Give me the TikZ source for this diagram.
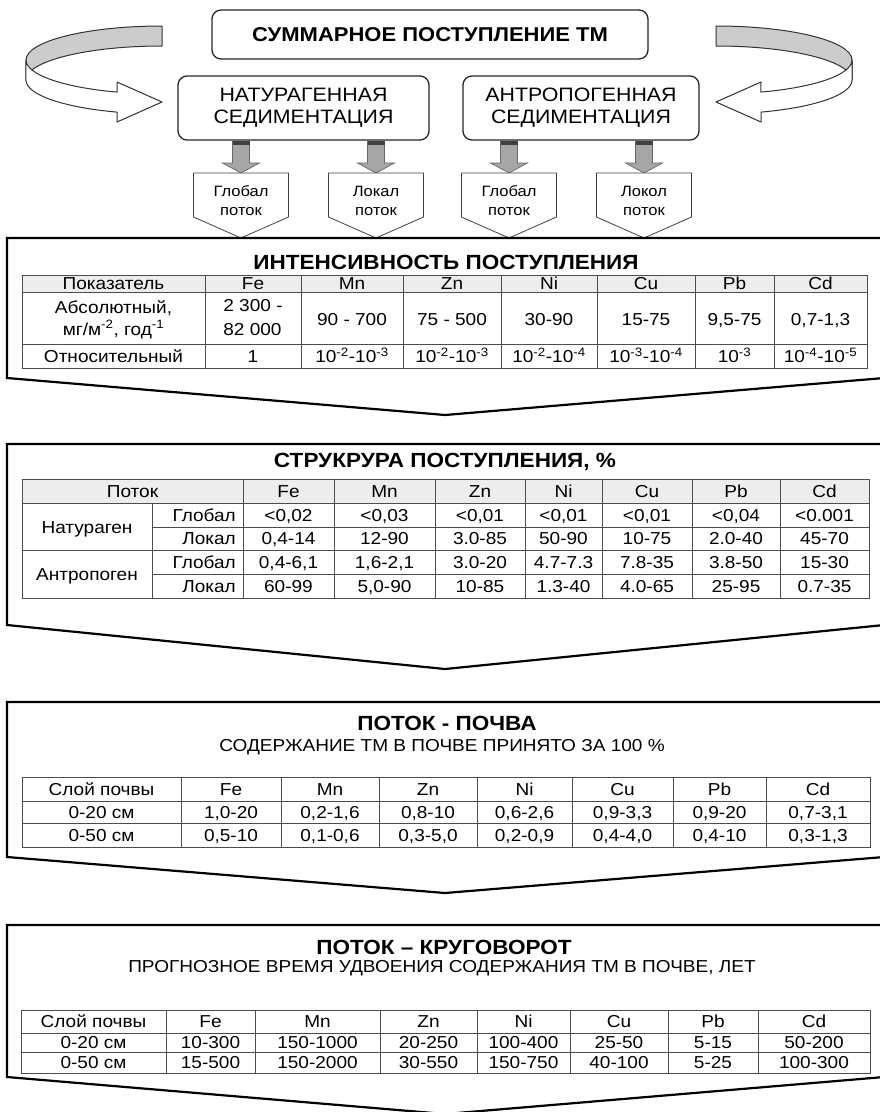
\documentclass[tikz,border=0pt]{standalone}
\usepackage{fontspec}
\setmainfont{Liberation Sans}[FakeStretch=1.1]
\begin{document}
\begin{tikzpicture}[x=1pt,y=-1pt,
  panel/.style={draw=black, line width=2.2pt, fill=white, line join=miter},
  rbox/.style={draw=black!85, line width=1.3pt, rounded corners=9pt, fill=white},
  flowbox/.style={draw=black!75, line width=0.8pt, fill=white, line join=miter},
  grayarrow/.style={draw=black!60, line width=0.7pt, fill=black!35},
  ribbon/.style={draw=black!80, line width=1pt, line join=round},
  grid/.style={draw=black!70, line width=0.8pt},
  hdr/.style={fill=black!7},
  cell/.style={font=\fontsize{17.3}{22}\selectfont, inner sep=0pt, align=center,
    text height=12.5pt, text depth=0pt},
  ttl/.style={font=\bfseries\fontsize{20.5}{24}\selectfont, inner sep=0pt},
  subttl/.style={font=\fontsize{17.3}{20}\selectfont, inner sep=0pt},
  boxtext/.style={font=\fontsize{19.4}{22}\selectfont, align=center, inner sep=0pt},
  flowtext/.style={font=\fontsize{15}{19}\selectfont, align=center, inner sep=0pt}
]
\useasboundingbox (0,0) rectangle (880,1112);
\clip (0,0) rectangle (880,1112);

% ---------- curved ribbon arrows ----------
\newcommand{\ribbonarrow}{%
  \fill[black!20, draw=black!80, line width=1pt, line join=round]
    (162,26) arc[start angle=270, end angle=180, x radius=136, y radius=34]
    -- (26,80) arc[start angle=180, end angle=270, x radius=136, y radius=34]
    -- cycle;
  \filldraw[ribbon, fill=white]
    (26,60) arc[start angle=180, end angle=109.3, x radius=136, y radius=34]
    -- (117,82) -- (162,102) -- (117,122) -- (117,112.1)
    arc[start angle=109.3, end angle=180, x radius=136, y radius=34]
    -- cycle;
}
\begin{scope}
  \ribbonarrow
\end{scope}
\begin{scope}[xshift=878pt, xscale=-1]
  \ribbonarrow
\end{scope}

% ---------- top boxes ----------
\node[rbox, minimum width=436pt, minimum height=49pt] (total) at (430,34.5) {};
\node[font=\bfseries\fontsize{20}{24}\selectfont, inner sep=0pt] (totaltxt) at (total.center) {СУММАРНОЕ ПОСТУПЛЕНИЕ ТМ};
\node[rbox, minimum width=251pt, minimum height=64pt] (nat) at (303.5,108) {};
\node[boxtext] (nattxt) at (nat.center) {НАТУРАГЕННАЯ\\СЕДИМЕНТАЦИЯ};
\node[rbox, minimum width=236pt, minimum height=64pt] (ant) at (581,108) {};
\node[boxtext] (anttxt) at (ant.center) {АНТРОПОГЕННАЯ\\СЕДИМЕНТАЦИЯ};

% ---------- flow boxes with gray arrows ----------
\foreach \cx/\la/\lb [count=\i] in {241/Глобал/поток, 376/Локал/поток, 509/Глобал/поток, 644/Локол/поток}{
  \filldraw[grayarrow] (\cx-8.5,141) -- (\cx+8.5,141) -- (\cx+8.5,163) -- (\cx+18.5,163)
     -- (\cx,173) -- (\cx-18.5,163) -- (\cx-8.5,163) -- cycle;
  \fill[black!75] (\cx-8.5,141) rectangle (\cx+8.5,145);
  \filldraw[flowbox] (\cx-47.5,173) -- (\cx+47.5,173) -- (\cx+47.5,217) -- (\cx,238)
     -- (\cx-47.5,217) -- cycle;
  \node[flowtext] (flow\i) at (\cx,200.5) {\la\\\lb};
}

% ---------- panel 1: intensity ----------
\filldraw[panel] (7,238) -- (884,238) -- (884,378) -- (445,415) -- (7,378) -- cycle;
\node[ttl] (t1) at (446,262) {ИНТЕНСИВНОСТЬ ПОСТУПЛЕНИЯ};
\fill[hdr] (22,275) rectangle (867,292);
\draw[grid] (22,275) rectangle (867,368);
\foreach \y in {292,344} \draw[grid] (22,\y) -- (867,\y);
\foreach \x in {205,301,403,501,597,695,774} \draw[grid] (\x,275) -- (\x,368);
\foreach \x/\t [count=\i] in {113.5/Показатель, 253/Fe, 352/Mn, 452/Zn, 549/Ni, 646/Cu, 734.5/Pb, 820.5/Cd}
  \node[cell] (a0c\i) at (\x,283.5) {\t};
\node[cell, text height=, text depth=] (a1c1) at (113.5,319.5) {Абсолютный,\\мг/м\textsuperscript{-2}, год\textsuperscript{-1}};
\node[cell, text height=, text depth=] (a1c2) at (253,319.5) {\begin{tabular}{@{}l@{}}2 300 -\\[2pt]82 000\end{tabular}};
\foreach \x/\t [count=\i from 3] in {352/{90 - 700}, 452/{75 - 500},
  549/{30-90}, 646/{15-75}, 734.5/{9,5-75}, 820.5/{0,7-1,3}}
  \node[cell] (a1c\i) at (\x,319) {\t};
\foreach \x/\t [count=\i] in {113.5/Относительный, 253/1,
  352/{10\textsuperscript{-2}-10\textsuperscript{-3}}, 452/{10\textsuperscript{-2}-10\textsuperscript{-3}},
  549/{10\textsuperscript{-2}-10\textsuperscript{-4}}, 646/{10\textsuperscript{-3}-10\textsuperscript{-4}},
  734.5/{10\textsuperscript{-3}}, 820.5/{10\textsuperscript{-4}-10\textsuperscript{-5}}}
  \node[cell] (a2c\i) at (\x,356.5) {\t};

% ---------- panel 2: structure ----------
\filldraw[panel] (7,444) -- (884,444) -- (884,625) -- (445,669) -- (7,625) -- cycle;
\node[ttl] (t2) at (445,462) {СТРУКРУРА ПОСТУПЛЕНИЯ, \%};
\fill[hdr] (22,479) rectangle (869,503);
\draw[grid] (22,479) rectangle (869,598);
\foreach \y in {503,550} \draw[grid] (22,\y) -- (869,\y);
\foreach \y in {527,574} \draw[grid] (152,\y) -- (869,\y);
\draw[grid] (152,503) -- (152,598);
\foreach \x in {243,334,435,525,602,692,780} \draw[grid] (\x,479) -- (\x,598);
\node[cell] (b0c1) at (132.5,491) {Поток};
\foreach \x/\t [count=\i] in {288.5/Fe, 384.5/Mn, 480/Zn, 563.5/Ni, 647/Cu, 736/Pb, 824.5/Cd}
  \node[cell] (b0d\i) at (\x,491) {\t};
\node[cell] (nat2) at (87,527) {Натураген};
\node[cell] (ant2) at (87,574) {Антропоген};
\foreach \y/\t [count=\i] in {515/Глобал, 538.5/Локал, 562/Глобал, 586/Локал}
  \node[cell, anchor=east] (blab\i) at (236,\y) {\t};
\foreach \x/\t [count=\i] in {288.5/{<0,02}, 384.5/{<0,03}, 480/{<0,01}, 563.5/{<0,01}, 647/{<0,01}, 736/{<0,04}, 824.5/{<0.001}}
  \node[cell] (b1c\i) at (\x,515) {\t};
\foreach \x/\t [count=\i] in {288.5/{0,4-14}, 384.5/{12-90}, 480/{3.0-85}, 563.5/{50-90}, 647/{10-75}, 736/{2.0-40}, 824.5/{45-70}}
  \node[cell] (b2c\i) at (\x,538.5) {\t};
\foreach \x/\t [count=\i] in {288.5/{0,4-6,1}, 384.5/{1,6-2,1}, 480/{3.0-20}, 563.5/{4.7-7.3}, 647/{7.8-35}, 736/{3.8-50}, 824.5/{15-30}}
  \node[cell] (b3c\i) at (\x,562) {\t};
\foreach \x/\t [count=\i] in {288.5/{60-99}, 384.5/{5,0-90}, 480/{10-85}, 563.5/{1.3-40}, 647/{4.0-65}, 736/{25-95}, 824.5/{0.7-35}}
  \node[cell] (b4c\i) at (\x,586) {\t};

% ---------- panel 3: flow to soil ----------
\filldraw[panel] (7,702) -- (884,702) -- (884,857) -- (445,893) -- (7,857) -- cycle;
\node[ttl] (t3) at (447,723) {ПОТОК - ПОЧВА};
\node[subttl] (s3) at (442,747) {СОДЕРЖАНИЕ ТМ В ПОЧВЕ ПРИНЯТО ЗА 100 \%};
\draw[grid] (22,777) rectangle (870,847);
\foreach \y in {801,823} \draw[grid] (22,\y) -- (870,\y);
\foreach \x in {181,281,379,477,572,673,766} \draw[grid] (\x,777) -- (\x,847);
\foreach \x/\t [count=\i] in {101.5/{Слой почвы}, 231/Fe, 330/Mn, 428/Zn, 524.5/Ni, 622.5/Cu, 719.5/Pb, 818/Cd}
  \node[cell] (c0c\i) at (\x,789) {\t};
\foreach \x/\t [count=\i] in {101.5/{0-20 см}, 231/{1,0-20}, 330/{0,2-1,6}, 428/{0,8-10}, 524.5/{0,6-2,6}, 622.5/{0,9-3,3}, 719.5/{0,9-20}, 818/{0,7-3,1}}
  \node[cell] (c1c\i) at (\x,812) {\t};
\foreach \x/\t [count=\i] in {101.5/{0-50 см}, 231/{0,5-10}, 330/{0,1-0,6}, 428/{0,3-5,0}, 524.5/{0,2-0,9}, 622.5/{0,4-4,0}, 719.5/{0,4-10}, 818/{0,3-1,3}}
  \node[cell] (c2c\i) at (\x,835) {\t};

% ---------- panel 4: flow to cycling ----------
\filldraw[panel] (7,925) -- (884,925) -- (884,1077) -- (445,1114) -- (7,1077) -- cycle;
\node[ttl] (t4) at (444,947) {ПОТОК – КРУГОВОРОТ};
\node[subttl] (s4) at (442,968) {ПРОГНОЗНОЕ ВРЕМЯ УДВОЕНИЯ СОДЕРЖАНИЯ ТМ В ПОЧВЕ, ЛЕТ};
\draw[grid] (21,1010) rectangle (870,1073);
\foreach \y in {1033,1052} \draw[grid] (21,\y) -- (870,\y);
\foreach \x in {166,255,380,477,570,668,758} \draw[grid] (\x,1010) -- (\x,1073);
\foreach \x/\t [count=\i] in {93.5/{Слой почвы}, 210.5/Fe, 317.5/Mn, 428.5/Zn, 523.5/Ni, 619/Cu, 713/Pb, 814/Cd}
  \node[cell] (d0c\i) at (\x,1021.5) {\t};
\foreach \x/\t [count=\i] in {93.5/{0-20 см}, 210.5/{10-300}, 317.5/{150-1000}, 428.5/{20-250}, 523.5/{100-400}, 619/{25-50}, 713/{5-15}, 814/{50-200}}
  \node[cell] (d1c\i) at (\x,1042.5) {\t};
\foreach \x/\t [count=\i] in {93.5/{0-50 см}, 210.5/{15-500}, 317.5/{150-2000}, 428.5/{30-550}, 523.5/{150-750}, 619/{40-100}, 713/{5-25}, 814/{100-300}}
  \node[cell] (d2c\i) at (\x,1062.5) {\t};
\end{tikzpicture}
\end{document}
